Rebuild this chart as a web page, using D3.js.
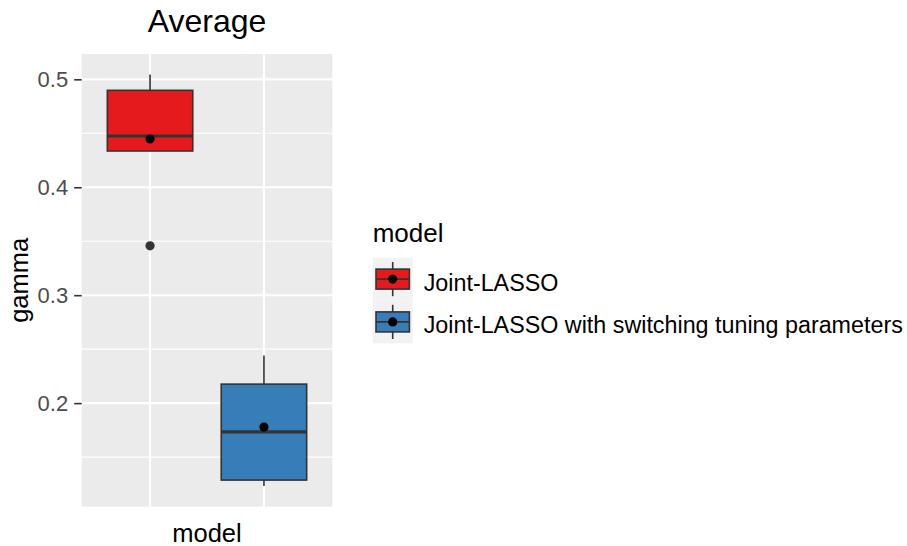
<!DOCTYPE html>
<html>
<head>
<meta charset="utf-8">
<script src="https://cdn.jsdelivr.net/npm/d3@7"></script>
<style>
  html, body { margin: 0; padding: 0; background: #ffffff; }
  svg { display: block; }
  text { font-family: "Liberation Sans", Arial, sans-serif; }
</style>
</head>
<body>
<svg id="chart" width="907" height="546"></svg>
<script>
// Box-plot summaries of gamma per model
const models = ["Joint-LASSO", "Joint-LASSO with switching tuning parameters"];
const fills = ["#E41A1C", "#377EB8"];
const lowerWhisker = [0.4336, 0.1231];
const q1 = [0.4336, 0.1287];
const medians = [0.4475, 0.1734];
const q3 = [0.4898, 0.2176];
const upperWhisker = [0.5044, 0.2442];
const means = [0.4447, 0.1778];
const outliers = [[0.3457], []];

const yMajor = [0.2, 0.3, 0.4, 0.5];
const yMajorLabels = ["0.2", "0.3", "0.4", "0.5"];
const yMinor = [0.15, 0.25, 0.35, 0.45];

const titleText = "Average";
const xTitle = "model";
const yTitle = "gamma";
const legendTitle = "model";

const svg = d3.select("#chart");
const panel = { left: 81.7, right: 332.3, top: 54, bottom: 506.7 };

// y domain: data range expanded by 5% on each side
const allVals = [...lowerWhisker, ...upperWhisker, ...outliers.flat()];
const lo = d3.min(allVals), hi = d3.max(allVals);
const pad = (hi - lo) * 0.05;
const y = d3.scaleLinear().domain([lo - pad, hi + pad]).range([panel.bottom, panel.top]);
const x = d3.scalePoint().domain(models).range([panel.left, panel.right]).padding(0.6);
const boxW = x.step() * 0.75;

// panel background
svg.append("rect")
  .attr("x", panel.left).attr("y", panel.top)
  .attr("width", panel.right - panel.left).attr("height", panel.bottom - panel.top)
  .attr("fill", "#EBEBEB");

// grid
const grid = svg.append("g");
grid.selectAll("line.minor").data(yMinor).join("line")
  .attr("x1", panel.left).attr("x2", panel.right)
  .attr("y1", d => y(d)).attr("y2", d => y(d))
  .attr("stroke", "#ffffff").attr("stroke-width", 1.1);
grid.selectAll("line.majory").data(yMajor).join("line")
  .attr("x1", panel.left).attr("x2", panel.right)
  .attr("y1", d => y(d)).attr("y2", d => y(d))
  .attr("stroke", "#ffffff").attr("stroke-width", 2.1);
grid.selectAll("line.majorx").data(models).join("line")
  .attr("x1", d => x(d)).attr("x2", d => x(d))
  .attr("y1", panel.top).attr("y2", panel.bottom)
  .attr("stroke", "#ffffff").attr("stroke-width", 2.1);

// y axis
const yAxis = d3.axisLeft(y).tickValues(yMajor)
  .tickFormat((d, i) => yMajorLabels[i]).tickSize(7.5).tickPadding(6);
const yg = svg.append("g").attr("transform", `translate(${panel.left},0)`).call(yAxis);
yg.select(".domain").remove();
yg.selectAll(".tick line").attr("stroke", "#333333").attr("stroke-width", 1.6);
yg.selectAll(".tick text")
  .attr("fill", "#4D4D4D").attr("font-size", 22)
  .attr("font-family", "'Liberation Sans', Arial, sans-serif");

// boxes
const stroke = "#333333";
const data = models.map((m, i) => ({
  m, i, fill: fills[i], lw: lowerWhisker[i], q1: q1[i], med: medians[i],
  q3: q3[i], uw: upperWhisker[i], mean: means[i], out: outliers[i]
}));
const boxes = svg.append("g").selectAll("g").data(data).join("g");
boxes.append("line")
  .attr("x1", d => x(d.m)).attr("x2", d => x(d.m))
  .attr("y1", d => y(d.uw)).attr("y2", d => y(d.q3))
  .attr("stroke", stroke).attr("stroke-width", 1.6);
boxes.append("line")
  .attr("x1", d => x(d.m)).attr("x2", d => x(d.m))
  .attr("y1", d => y(d.q1)).attr("y2", d => y(d.lw))
  .attr("stroke", stroke).attr("stroke-width", 1.6);
boxes.append("rect")
  .attr("x", d => x(d.m) - boxW / 2).attr("width", boxW)
  .attr("y", d => y(d.q3)).attr("height", d => y(d.q1) - y(d.q3))
  .attr("fill", d => d.fill).attr("stroke", stroke).attr("stroke-width", 1.6);
boxes.append("line")
  .attr("x1", d => x(d.m) - boxW / 2).attr("x2", d => x(d.m) + boxW / 2)
  .attr("y1", d => y(d.med)).attr("y2", d => y(d.med))
  .attr("stroke", stroke).attr("stroke-width", 3.2);
boxes.selectAll("circle.out").data(d => d.out.map(v => ({ m: d.m, v }))).join("circle")
  .attr("cx", d => x(d.m)).attr("cy", d => y(d.v)).attr("r", 4.6)
  .attr("fill", stroke);
boxes.append("circle")
  .attr("cx", d => x(d.m)).attr("cy", d => y(d.mean)).attr("r", 4.6)
  .attr("fill", "#000000");

// titles
const midX = (panel.left + panel.right) / 2;
svg.append("text").attr("x", midX).attr("y", 32)
  .attr("text-anchor", "middle").attr("font-size", 32).attr("fill", "#000")
  .text(titleText);
svg.append("text").attr("x", midX).attr("y", 542)
  .attr("text-anchor", "middle").attr("font-size", 25.5).attr("fill", "#000")
  .text(xTitle);
svg.append("text")
  .attr("transform", `translate(28,${(panel.top + panel.bottom) / 2}) rotate(-90)`)
  .attr("text-anchor", "middle").attr("font-size", 25.5).attr("fill", "#000")
  .text(yTitle);

// legend
const legend = svg.append("g").attr("transform", "translate(372.7,0)");
legend.append("text").attr("x", 0).attr("y", 241.7)
  .attr("font-size", 26).attr("fill", "#000").text(legendTitle);
const keyW = 40, keyH = 42.8, keyTop = 257.7;
const keys = legend.selectAll("g.key").data(data).join("g")
  .attr("transform", (d, i) => `translate(0,${keyTop + i * keyH})`);
keys.append("rect").attr("width", keyW).attr("height", keyH).attr("fill", "#F2F2F2");
keys.append("line")
  .attr("x1", keyW / 2).attr("x2", keyW / 2)
  .attr("y1", keyH * 0.1).attr("y2", keyH * 0.9)
  .attr("stroke", stroke).attr("stroke-width", 1.6);
keys.append("rect")
  .attr("x", 3.3).attr("width", keyW - 6.6)
  .attr("y", keyH / 2 - 10).attr("height", 20)
  .attr("fill", d => d.fill).attr("stroke", stroke).attr("stroke-width", 1.6);
keys.append("line")
  .attr("x1", 3.3).attr("x2", keyW - 3.3)
  .attr("y1", keyH / 2).attr("y2", keyH / 2)
  .attr("stroke", stroke).attr("stroke-width", 1.6);
keys.append("circle").attr("cx", keyW / 2).attr("cy", keyH / 2).attr("r", 4.6).attr("fill", "#000");
keys.append("text")
  .attr("x", 51).attr("y", keyH / 2 + 11.5)
  .attr("font-size", 23.3).attr("fill", "#000")
  .text(d => d.m);
</script>
</body>
</html>
